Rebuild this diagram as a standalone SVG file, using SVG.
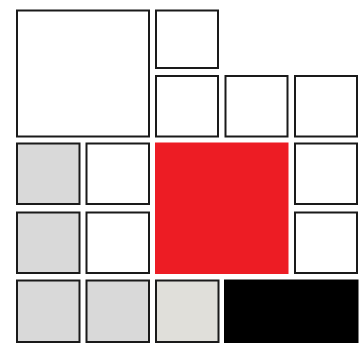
<svg xmlns="http://www.w3.org/2000/svg" width="363" height="347" viewBox="0 0 363 347">
<style>
.b{stroke:#1a1a1a;stroke-width:2}
.w{fill:#ffffff}
.g{fill:#d9d9d9}
.g2{fill:#e0dfda}
.r{fill:#ed1c24}
.k{fill:#000000}
</style>
<rect width="363" height="347" fill="#ffffff"/>
<g id="big"><rect class="b w" x="17" y="10.5" width="132" height="126"/></g>
<g id="top-c3"><rect class="b w" x="156" y="10.5" width="62" height="57.5"/></g>
<g id="r2-c3"><rect class="b w" x="156" y="76" width="62" height="60.5"/></g>
<g id="r2-c4"><rect class="b w" x="225.5" y="76" width="62" height="60.5"/></g>
<g id="r2-c5"><rect class="b w" x="295" y="76" width="62" height="60.5"/></g>
<g id="r3-c1"><rect class="b g" x="17" y="143.5" width="62.5" height="60.5"/></g>
<g id="r3-c2"><rect class="b w" x="86.5" y="143.5" width="62.5" height="60.5"/></g>
<g id="red"><rect class="r" x="155" y="142.5" width="133.5" height="131.5"/></g>
<g id="r3-c5"><rect class="b w" x="295" y="143.5" width="62" height="60.5"/></g>
<g id="r4-c1"><rect class="b g" x="17" y="212.5" width="62.5" height="60.5"/></g>
<g id="r4-c2"><rect class="b w" x="86.5" y="212.5" width="62.5" height="60.5"/></g>
<g id="r4-c5"><rect class="b w" x="295" y="212.5" width="62" height="60.5"/></g>
<g id="r5-c1"><rect class="b g" x="17" y="280.5" width="62.5" height="61.5"/></g>
<g id="r5-c2"><rect class="b g" x="86.5" y="280.5" width="62.5" height="61.5"/></g>
<g id="r5-c3"><rect class="b g2" x="156" y="280.5" width="62.5" height="61.5"/></g>
<g id="black"><rect class="k" x="224" y="279.5" width="134.5" height="63.5"/></g>
<g id="connectors"></g>
</svg>
